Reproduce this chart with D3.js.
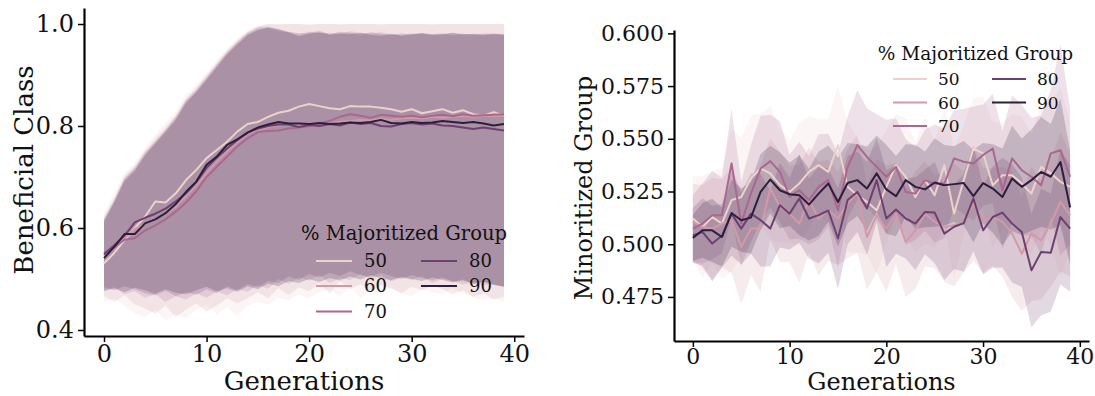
<!DOCTYPE html>
<html>
<head>
<meta charset="utf-8">
<script src="https://cdn.jsdelivr.net/npm/d3@7"></script>
<style>
  body { margin: 0; background: #fff; }
  svg { display: block; }
  text { font-family: "DejaVu Serif", serif; fill: #111; }
</style>
</head>
<body>
<svg id="chart" width="1095" height="396"></svg>
<script>
// ---------- data ----------
const generations = [0,1,2,3,4,5,6,7,8,9,10,11,12,13,14,15,16,17,18,19,20,21,22,23,24,25,26,27,28,29,30,31,32,33,34,35,36,37,38,39];
const majorityLevels = [50, 60, 70, 80, 90];

// Beneficial class rate: mean and band bounds per majority level
const benefit50 = [0.531,0.551,0.576,0.600,0.622,0.652,0.650,0.668,0.694,0.714,0.737,0.753,0.769,0.789,0.804,0.808,0.818,0.826,0.830,0.838,0.843,0.839,0.835,0.833,0.839,0.838,0.838,0.836,0.833,0.828,0.833,0.825,0.829,0.833,0.826,0.831,0.823,0.820,0.827,0.820];
const benefit60 = [0.545,0.560,0.580,0.598,0.608,0.618,0.628,0.642,0.662,0.683,0.708,0.730,0.750,0.768,0.785,0.793,0.798,0.802,0.803,0.802,0.805,0.806,0.804,0.808,0.810,0.812,0.811,0.814,0.812,0.815,0.816,0.815,0.818,0.816,0.818,0.820,0.818,0.820,0.819,0.820];
const benefit70 = [0.551,0.562,0.577,0.580,0.595,0.605,0.617,0.632,0.650,0.672,0.700,0.720,0.740,0.760,0.776,0.788,0.790,0.791,0.795,0.797,0.800,0.805,0.810,0.818,0.823,0.820,0.816,0.822,0.820,0.818,0.820,0.817,0.820,0.822,0.819,0.823,0.820,0.821,0.822,0.823];
const benefit80 = [0.548,0.566,0.585,0.611,0.620,0.628,0.638,0.652,0.668,0.690,0.718,0.738,0.756,0.772,0.787,0.795,0.800,0.803,0.803,0.798,0.802,0.800,0.804,0.801,0.807,0.804,0.806,0.800,0.799,0.804,0.806,0.803,0.805,0.801,0.800,0.797,0.794,0.797,0.794,0.791];
const benefit90 = [0.541,0.563,0.588,0.588,0.609,0.617,0.629,0.647,0.671,0.691,0.724,0.740,0.763,0.774,0.787,0.797,0.803,0.808,0.805,0.805,0.804,0.806,0.804,0.805,0.807,0.806,0.808,0.812,0.806,0.805,0.808,0.806,0.807,0.810,0.808,0.806,0.808,0.805,0.801,0.804];

const benefitLo50 = [0.455,0.462,0.448,0.432,0.425,0.440,0.418,0.432,0.422,0.440,0.450,0.430,0.445,0.428,0.448,0.455,0.450,0.462,0.458,0.470,0.462,0.474,0.480,0.466,0.486,0.462,0.478,0.470,0.484,0.472,0.466,0.480,0.474,0.470,0.482,0.472,0.464,0.458,0.462,0.455];
const benefitLo60 = [0.466,0.455,0.468,0.450,0.442,0.432,0.448,0.425,0.440,0.452,0.436,0.448,0.462,0.452,0.462,0.474,0.462,0.482,0.468,0.484,0.476,0.492,0.472,0.495,0.480,0.490,0.475,0.488,0.482,0.472,0.485,0.478,0.488,0.480,0.470,0.478,0.465,0.472,0.460,0.465];
const benefitLo70 = [0.478,0.484,0.470,0.476,0.463,0.470,0.455,0.466,0.460,0.472,0.463,0.476,0.468,0.480,0.475,0.488,0.481,0.500,0.490,0.504,0.497,0.508,0.492,0.502,0.498,0.510,0.500,0.507,0.495,0.503,0.498,0.506,0.492,0.500,0.496,0.489,0.494,0.487,0.490,0.484];
const benefitLo80 = [0.484,0.478,0.486,0.480,0.472,0.468,0.477,0.466,0.474,0.469,0.480,0.472,0.486,0.478,0.490,0.484,0.496,0.492,0.505,0.498,0.510,0.503,0.512,0.506,0.515,0.508,0.504,0.512,0.506,0.500,0.508,0.502,0.497,0.503,0.495,0.499,0.491,0.495,0.489,0.486];
const benefitLo90 = [0.476,0.482,0.474,0.483,0.478,0.471,0.480,0.473,0.470,0.478,0.485,0.476,0.482,0.475,0.486,0.480,0.491,0.486,0.496,0.492,0.500,0.494,0.502,0.497,0.505,0.499,0.508,0.501,0.498,0.504,0.500,0.496,0.503,0.498,0.493,0.497,0.490,0.494,0.488,0.485];

const benefitHi50 = [0.630,0.668,0.708,0.728,0.758,0.785,0.805,0.830,0.862,0.882,0.905,0.930,0.952,0.972,0.988,0.997,1.000,1.000,1.000,1.000,1.000,1.000,1.000,1.000,1.000,1.000,1.000,1.000,1.000,1.000,1.000,1.000,1.000,1.000,1.000,1.000,1.000,1.000,1.000,1.000];
const benefitHi60 = [0.622,0.660,0.702,0.722,0.752,0.776,0.798,0.822,0.855,0.876,0.900,0.924,0.948,0.968,0.985,0.995,1.000,0.999,1.000,1.000,0.998,1.000,1.000,0.999,1.000,1.000,1.000,0.999,1.000,1.000,1.000,1.000,0.999,1.000,1.000,1.000,1.000,1.000,1.000,1.000];
const benefitHi70 = [0.615,0.652,0.695,0.715,0.745,0.768,0.790,0.815,0.848,0.868,0.893,0.918,0.942,0.962,0.980,0.990,0.992,0.986,0.984,0.979,0.985,0.982,0.983,0.980,0.986,0.983,0.981,0.984,0.980,0.978,0.982,0.980,0.981,0.979,0.983,0.981,0.980,0.982,0.980,0.981];
const benefitHi80 = [0.618,0.655,0.698,0.718,0.748,0.770,0.793,0.818,0.851,0.871,0.896,0.921,0.945,0.965,0.983,0.993,0.995,0.990,0.985,0.982,0.983,0.987,0.980,0.985,0.983,0.979,0.984,0.981,0.978,0.982,0.979,0.983,0.980,0.982,0.978,0.981,0.979,0.980,0.982,0.979];
const benefitHi90 = [0.612,0.650,0.692,0.712,0.742,0.765,0.788,0.812,0.845,0.866,0.890,0.915,0.940,0.960,0.978,0.988,0.993,0.989,0.984,0.976,0.981,0.984,0.979,0.982,0.980,0.983,0.979,0.977,0.981,0.977,0.980,0.982,0.978,0.980,0.983,0.979,0.981,0.978,0.980,0.979];

// Minoritized group rate: mean and band half-width per majority level
const minority50 = [0.5122,0.5082,0.5129,0.5098,0.5209,0.5224,0.5312,0.5359,0.5336,0.5280,0.5248,0.5288,0.5343,0.5375,0.5343,0.5470,0.5272,0.5232,0.5201,0.5161,0.5272,0.5375,0.5320,0.5224,0.5304,0.5232,0.5375,0.5145,0.5304,0.5454,0.5431,0.5280,0.5327,0.5327,0.5288,0.5240,0.5367,0.5336,0.5296,0.5272];
const minority60 = [0.5106,0.5082,0.5074,0.5098,0.5114,0.4987,0.5074,0.5074,0.5264,0.5177,0.5145,0.5098,0.5209,0.5122,0.5161,0.5122,0.5193,0.5240,0.5034,0.5137,0.5074,0.5145,0.5011,0.5066,0.5145,0.5106,0.5082,0.5090,0.5106,0.5193,0.5114,0.5129,0.5106,0.5050,0.4955,0.5050,0.5019,0.5098,0.5201,0.5137];
const minority70 = [0.5074,0.5098,0.5137,0.5137,0.5383,0.5098,0.5240,0.5359,0.5394,0.5343,0.5224,0.5256,0.5209,0.5272,0.5304,0.5161,0.5367,0.5470,0.5414,0.5367,0.5320,0.5367,0.5248,0.5240,0.5304,0.5288,0.5288,0.5407,0.5391,0.5383,0.5423,0.5454,0.5256,0.5407,0.5351,0.5320,0.5280,0.5431,0.5446,0.5320];
const minority80 = [0.5042,0.5058,0.5003,0.5040,0.5145,0.5074,0.5145,0.5114,0.5074,0.5185,0.5145,0.5217,0.5122,0.5138,0.5160,0.5027,0.5210,0.5248,0.5170,0.5304,0.5122,0.5165,0.5122,0.5098,0.5153,0.5150,0.5050,0.5083,0.5100,0.5217,0.5066,0.5129,0.5150,0.5098,0.5058,0.4876,0.4963,0.4960,0.5129,0.5074];
const minority90 = [0.5030,0.5066,0.5066,0.5034,0.5148,0.5114,0.5126,0.5248,0.5307,0.5256,0.5237,0.5232,0.5188,0.5240,0.5288,0.5200,0.5290,0.5304,0.5264,0.5336,0.5260,0.5228,0.5304,0.5272,0.5260,0.5293,0.5280,0.5285,0.5290,0.5228,0.5290,0.5264,0.5224,0.5312,0.5272,0.5304,0.5343,0.5320,0.5390,0.5174];

const minoritySpread50 = [0.020,0.024,0.022,0.026,0.034,0.028,0.030,0.026,0.032,0.027,0.024,0.029,0.026,0.022,0.025,0.028,0.031,0.027,0.025,0.030,0.027,0.024,0.028,0.026,0.030,0.025,0.028,0.031,0.026,0.024,0.027,0.030,0.025,0.029,0.032,0.028,0.030,0.034,0.045,0.030];
const minoritySpread60 = [0.018,0.020,0.024,0.021,0.025,0.027,0.022,0.030,0.024,0.026,0.023,0.028,0.025,0.027,0.024,0.022,0.026,0.028,0.025,0.027,0.030,0.024,0.026,0.028,0.025,0.022,0.026,0.029,0.024,0.027,0.025,0.023,0.026,0.030,0.027,0.032,0.028,0.030,0.033,0.029];
const minoritySpread70 = [0.016,0.019,0.021,0.018,0.026,0.020,0.023,0.025,0.022,0.024,0.020,0.023,0.021,0.025,0.022,0.027,0.024,0.026,0.023,0.025,0.027,0.023,0.025,0.022,0.024,0.028,0.026,0.023,0.025,0.027,0.024,0.026,0.028,0.030,0.031,0.028,0.033,0.030,0.050,0.032];
const minoritySpread80 = [0.013,0.016,0.018,0.015,0.020,0.017,0.019,0.022,0.018,0.020,0.017,0.021,0.019,0.023,0.020,0.024,0.021,0.019,0.022,0.020,0.023,0.021,0.019,0.022,0.020,0.024,0.022,0.020,0.023,0.025,0.021,0.024,0.026,0.028,0.026,0.027,0.030,0.028,0.032,0.030];
const minoritySpread90 = [0.011,0.013,0.015,0.014,0.016,0.015,0.017,0.018,0.016,0.018,0.015,0.019,0.017,0.020,0.018,0.021,0.019,0.017,0.020,0.018,0.021,0.019,0.017,0.020,0.018,0.021,0.019,0.018,0.020,0.022,0.019,0.021,0.023,0.025,0.023,0.024,0.026,0.025,0.030,0.027];

// tick values
const benefitTicks = [0.4, 0.6, 0.8, 1.0];
const minorityTicks = [0.475, 0.500, 0.525, 0.550, 0.575, 0.600];
const generationTicks = [0, 10, 20, 30, 40];

// ---------- styling ----------
// cubehelix sequence (light -> dark) for the majority levels
const levelColors = ["#edd1cb", "#d499a7", "#aa678f", "#6e4071", "#2d1e3e"];
const color = d3.scaleOrdinal().domain(majorityLevels).range(levelColors);

// ---------- assemble series ----------
const benefitSeries = [
  [benefit50, benefitLo50, benefitHi50],
  [benefit60, benefitLo60, benefitHi60],
  [benefit70, benefitLo70, benefitHi70],
  [benefit80, benefitLo80, benefitHi80],
  [benefit90, benefitLo90, benefitHi90]
].map(([m, lo, hi], i) => ({
  level: majorityLevels[i],
  points: generations.map((g, j) => ({ g, mean: m[j], lo: lo[j], hi: hi[j] }))
}));

const minoritySeries = [
  [minority50, minoritySpread50],
  [minority60, minoritySpread60],
  [minority70, minoritySpread70],
  [minority80, minoritySpread80],
  [minority90, minoritySpread90]
].map(([m, s], i) => ({
  level: majorityLevels[i],
  points: generations.map((g, j) => ({ g, mean: m[j], lo: m[j] - s[j], hi: m[j] + s[j] }))
}));

const svg = d3.select("#chart");

function drawPanel(cfg) {
  const x = d3.scaleLinear().domain([-1.95, 40.95]).range([cfg.left, cfg.right]);
  const y = d3.scaleLinear().domain(cfg.yDomain).range([cfg.bottom, cfg.top]);
  const g = svg.append("g");

  const area = d3.area().x(d => x(d.g)).y0(d => y(d.lo)).y1(d => y(d.hi));
  const line = d3.line().x(d => x(d.g)).y(d => y(d.mean));

  // bands underneath all lines
  g.append("g").selectAll("path").data(cfg.series).join("path")
    .attr("d", s => area(s.points))
    .attr("fill", s => color(s.level))
    .attr("fill-opacity", 0.2)
    .attr("stroke", "none");

  g.append("g").selectAll("path").data(cfg.series).join("path")
    .attr("d", s => line(s.points))
    .attr("fill", "none")
    .attr("stroke", s => color(s.level))
    .attr("stroke-width", 2)
    .attr("stroke-linejoin", "round");

  // axes (left + bottom spines only)
  const yAxis = g.append("g")
    .attr("transform", `translate(${cfg.left},0)`)
    .call(d3.axisLeft(y).tickValues(cfg.yTicks).tickFormat(cfg.yFormat)
      .tickSize(6).tickSizeOuter(0).tickPadding(4));
  const xAxis = g.append("g")
    .attr("transform", `translate(0,${cfg.bottom})`)
    .call(d3.axisBottom(x).tickValues(generationTicks).tickFormat(d3.format("d"))
      .tickSize(6).tickSizeOuter(0).tickPadding(cfg.xTickPad));

  [yAxis, xAxis].forEach(a => {
    a.select(".domain").attr("stroke", "#000").attr("stroke-width", 2.2);
    a.selectAll(".tick line").attr("stroke", "#000").attr("stroke-width", 1.5);
    a.selectAll(".tick text")
      .attr("fill", "#111")
      .style("font-family", '"DejaVu Serif", serif')
      .style("font-size", cfg.tickSize + "px");
  });

  // axis titles
  g.append("text")
    .attr("x", (cfg.left + cfg.right) / 2)
    .attr("y", cfg.xLabelY)
    .attr("text-anchor", "middle")
    .style("font-size", cfg.labelSize + "px")
    .text("Generations");
  g.append("text")
    .attr("transform", `translate(${cfg.yLabelX},${cfg.yLabelCenter}) rotate(-90)`)
    .attr("text-anchor", "middle")
    .style("font-size", cfg.labelSize + "px")
    .text(cfg.yLabel);

  // legend
  const lg = cfg.legend;
  g.append("text")
    .attr("x", lg.titleX).attr("y", lg.titleY)
    .attr("text-anchor", "middle")
    .style("font-size", lg.titleSize + "px")
    .text("% Majoritized Group");
  majorityLevels.forEach((lv, i) => {
    const col = i < 3 ? 0 : 1;
    const row = i < 3 ? i : i - 3;
    const x0 = lg.colX[col];
    const yy = lg.rowY[row];
    g.append("line")
      .attr("x1", x0).attr("x2", x0 + lg.lineLen)
      .attr("y1", yy).attr("y2", yy)
      .attr("stroke", color(lv)).attr("stroke-width", 2);
    g.append("text")
      .attr("x", x0 + lg.lineLen + lg.gap).attr("y", yy)
      .attr("dy", "0.36em")
      .style("font-size", lg.labelSize + "px")
      .text(lv);
  });
}

drawPanel({
  series: benefitSeries,
  left: 84, right: 524, top: 8, bottom: 336,
  yDomain: [0.3882, 1.0314],
  yTicks: benefitTicks, yFormat: d3.format(".1f"),
  tickSize: 24, labelSize: 26, xTickPad: 3,
  yLabel: "Beneficial Class", yLabelX: 33, yLabelCenter: 170,
  xLabelY: 390,
  legend: { titleX: 404, titleY: 240, titleSize: 19.5, labelSize: 18,
            colX: [316, 421], rowY: [261, 286, 311.5], lineLen: 36, gap: 12 }
});

drawPanel({
  series: minoritySeries,
  left: 674, right: 1089, top: 30, bottom: 341,
  yDomain: [0.4541, 0.6016],
  yTicks: minorityTicks, yFormat: d3.format(".3f"),
  tickSize: 22, labelSize: 24, xTickPad: 1.5,
  yLabel: "Minoritized Group", yLabelX: 592, yLabelCenter: 188,
  xLabelY: 390,
  legend: { titleX: 975.5, titleY: 60, titleSize: 18.5, labelSize: 17,
            colX: [893, 992], rowY: [79, 102.5, 126], lineLen: 34, gap: 11 }
});
</script>
</body>
</html>
